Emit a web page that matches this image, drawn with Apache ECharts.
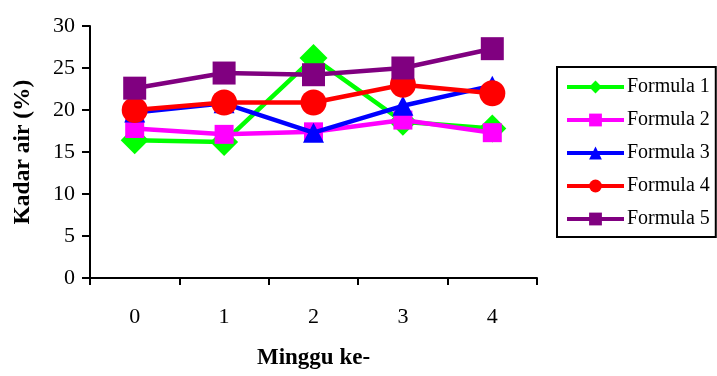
<!DOCTYPE html>
<html>
<head>
<meta charset="utf-8">
<script src="https://cdn.jsdelivr.net/npm/echarts@6/dist/echarts.min.js"></script>
<style>
  html, body { margin: 0; padding: 0; background: #fff; }
  #chart { width: 717px; height: 376px; }
</style>
</head>
<body>
<div id="chart"></div>
<script>
// Weeks of storage
const categories = ['0', '1', '2', '3', '4'];

// Moisture content (%) per formula
const formula1 = [16.4, 16.2, 26.2, 18.6, 17.8];
const formula2 = [17.8, 17.1, 17.4, 18.8, 17.3];
const formula3 = [19.7, 20.8, 17.3, 20.5, 22.9];
const formula4 = [20.0, 20.9, 20.9, 23.0, 22.0];
const formula5 = [22.6, 24.4, 24.2, 25.0, 27.3];

const seriesNames = ['Formula 1', 'Formula 2', 'Formula 3', 'Formula 4', 'Formula 5'];
const seriesData = [formula1, formula2, formula3, formula4, formula5];
const colors = ['#00ff00', '#ff00ff', '#0000ff', '#ff0000', '#800080'];
const symbols = ['diamond', 'rect', 'triangle', 'circle', 'rect'];
const symbolSizes = [[28, 28], [19, 19], [21, 20], [26, 26], [23, 23]];

const FONT = '"Liberation Serif", "Times New Roman", serif';

const chart = echarts.init(document.getElementById('chart'), null, { renderer: 'canvas' });

chart.setOption({
  animation: false,
  backgroundColor: '#ffffff',
  color: colors,
  grid: { left: 90, right: 180, top: 26, bottom: 98, containLabel: false },
  legend: {
    orient: 'vertical',
    left: 557,
    top: 67,
    padding: [10, 6, 8, 8],
    itemWidth: 57,
    itemHeight: 16,
    itemGap: 13,
    borderColor: '#000',
    borderWidth: 2,
    backgroundColor: '#fff',
    lineStyle: { width: 4 },
    textStyle: { fontFamily: FONT, fontSize: 20, color: '#000', padding: [0, 0, 0, -2] },
    data: seriesNames
  },
  xAxis: {
    type: 'category',
    data: categories,
    boundaryGap: true,
    name: 'Minggu ke-',
    nameLocation: 'middle',
    nameGap: 69,
    nameTextStyle: { fontFamily: FONT, fontSize: 23, fontWeight: 'bold', color: '#000' },
    axisLine: { lineStyle: { color: '#000', width: 2 } },
    axisTick: { show: true, length: 7, inside: false, alignWithLabel: false, interval: 0, lineStyle: { color: '#000', width: 2 } },
    axisLabel: { fontFamily: FONT, fontSize: 22, color: '#000', margin: 28 },
    splitLine: { show: false }
  },
  yAxis: {
    type: 'value',
    min: 0,
    max: 30,
    interval: 5,
    name: 'Kadar air (%)',
    nameLocation: 'middle',
    nameGap: 55,
    nameTextStyle: { fontFamily: FONT, fontSize: 23.5, fontWeight: 'bold', color: '#000' },
    axisLine: { show: true, lineStyle: { color: '#000', width: 2 } },
    axisTick: { show: true, length: 8, inside: false, lineStyle: { color: '#000', width: 2 } },
    axisLabel: { fontFamily: FONT, fontSize: 22, color: '#000', margin: 15 },
    splitLine: { show: false }
  },
  series: seriesNames.map((name, i) => ({
    name: name,
    type: 'line',
    data: seriesData[i],
    symbol: symbols[i],
    symbolSize: symbolSizes[i],
    showAllSymbol: true,
    z: 2 + i,
    lineStyle: { color: colors[i], width: 4.5 },
    itemStyle: { color: colors[i], borderWidth: 0 },
    emphasis: { disabled: true }
  }))
});
</script>
</body>
</html>
